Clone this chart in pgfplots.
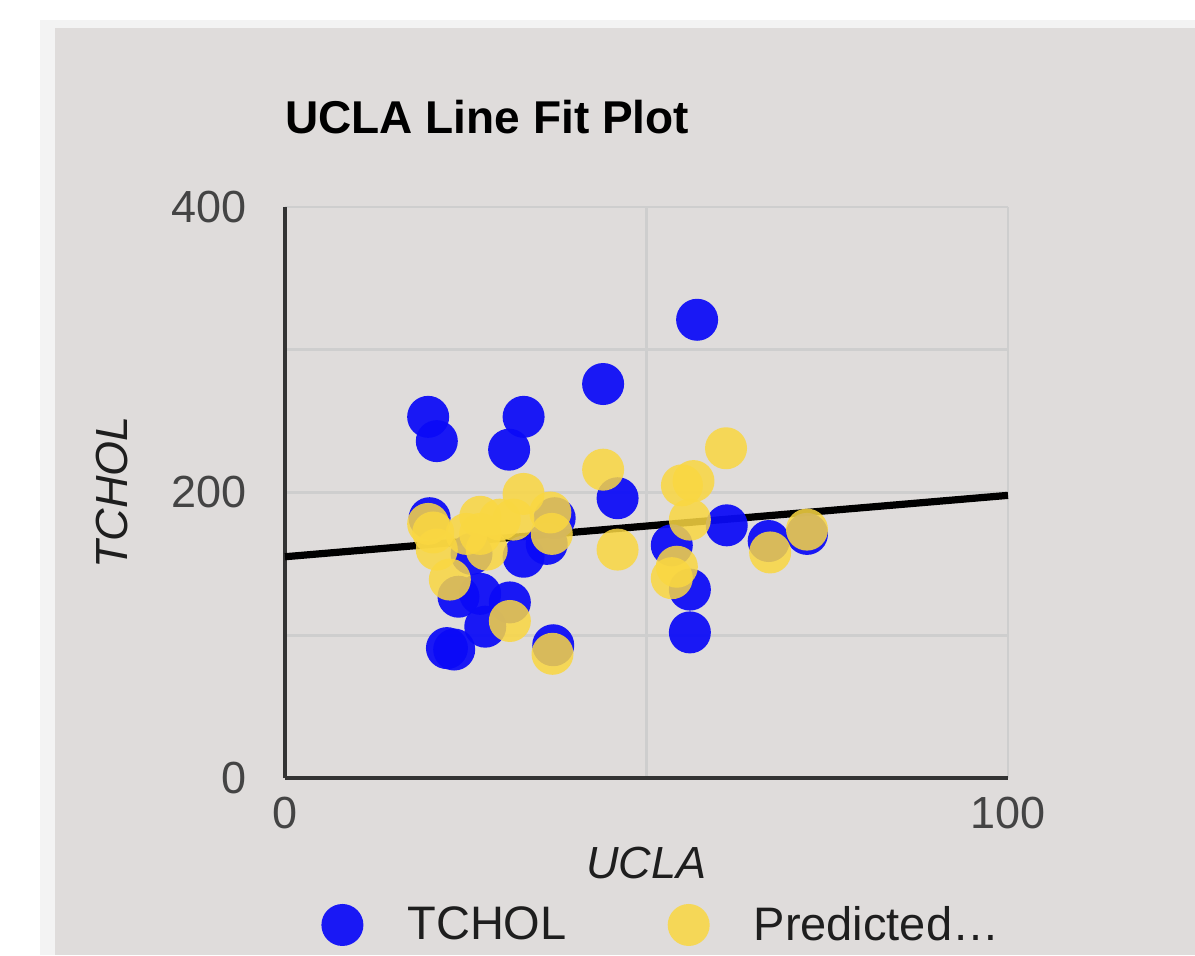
\documentclass[border=0pt]{standalone}
\usepackage{fontspec}
\setmainfont{Liberation Sans}
\setsansfont{Liberation Sans}
\usepackage{pgfplots}
\pgfplotsset{compat=1.18}
\usepackage{pgfplotstable}
\definecolor{bgc}{RGB}{223,220,219}
\definecolor{edgec}{RGB}{243,243,243}
\definecolor{gridc}{RGB}{206,206,206}
\definecolor{axc}{RGB}{51,51,51}
\definecolor{tickc}{RGB}{68,68,68}
\definecolor{txtc}{RGB}{30,30,30}
\definecolor{ptblue}{RGB}{10,10,248}
\definecolor{ptyellow}{RGB}{250,215,65}
\pgfplotstableread{
x y
19.8 253
21 236
33 253
31 230
44 276
57 321
46 196
20 182
37.3 182
33 155
36.2 164
25.8 157
53.5 163
56 132
56 102
61.1 177
24 127
27 129
31.1 123
27.7 106
22.4 91
23.4 90
37.1 93
66.9 166
72.2 171
}\tchol
\pgfplotstableread{
x y
44 216
61 231
56.5 208
54.9 205
56 181
46 160
53.5 140
54.2 148
33 199
36.7 186
36.9 171
19.8 178
27 183
31.6 181
29.7 181
21 160
27.9 160
22.8 139
25.1 171
27 171
31.1 110
37 87
67.1 158
72.2 174
20.5 172
}\pred
\pgfplotsset{
  myleg/.style={legend image code/.code={\draw[mark repeat=2,mark phase=2,##1] plot coordinates {(0pt,0pt)(10.5pt,0pt)(21pt,0pt)};}}
}
\begin{document}
\begin{tikzpicture}
\useasboundingbox (0,0) rectangle (597.5pt,477.5pt);
\fill[white] (0,0) rectangle (597.5pt,477.5pt);
\fill[edgec] (20pt,0) rectangle (597.5pt,467.5pt);
\fill[bgc] (27.5pt,0) rectangle (597.5pt,463.5pt);
\begin{axis}[
  at={(142.5pt,88.5pt)}, anchor=south west,
  scale only axis, width=361.5pt, height=285.5pt,
  xmin=0, xmax=100, ymin=0, ymax=400,
  xtick={0,100}, minor xtick={50},
  ytick={0,200,400}, minor ytick={100,300},
  grid=both,
  major grid style={draw=gridc, line width=1.3pt},
  minor grid style={draw=gridc, line width=1.3pt},
  major tick length=0pt, minor tick length=0pt,
  axis x line=bottom, axis y line=left,
  axis line style={-, draw=axc, line width=1.8pt},
  /pgf/number format/assume math mode=true,
  tick label style={font=\fontsize{22.5}{27}\selectfont, text=tickc},
  yticklabel style={inner sep=0pt, xshift=-19pt},
  xticklabel style={inner sep=0pt, yshift=-9.5pt},
  title={UCLA Line Fit Plot},
  title style={at={(axis description cs:0,1)}, anchor=base west, yshift=31pt, inner sep=0pt, font=\fontsize{23}{27}\selectfont\bfseries, text=black},
  xlabel={UCLA},
  xlabel style={at={(axis description cs:0.5,-0.149)}, anchor=center, inner sep=0pt, font=\fontsize{22.5}{27}\selectfont\itshape, text=txtc},
  ylabel={TCHOL},
  ylabel style={at={(axis description cs:-0.2397,0.5)}, anchor=center, inner sep=0pt, font=\fontsize{22.5}{27}\selectfont\itshape, text=txtc},
  legend columns=-1,
  legend style={at={(axis description cs:0.0498,-0.2574)}, anchor=west, draw=none, fill=none,
    inner xsep=0pt, inner ysep=0pt, nodes={inner sep=0pt},
    font=\fontsize{23.5}{27}\selectfont, text=txtc,
    /tikz/every odd column/.append style={column sep=22pt},
    /tikz/every even column/.append style={column sep=50.5pt}},
  clip=false,
]
\addplot[black, line width=3.6pt, forget plot] coordinates {(0,155) (100,198)};
\addplot[only marks, mark=*, mark size=10.5pt, color=ptblue, mark options={draw=ptblue, draw opacity=0, line width=0pt, fill=ptblue, fill opacity=0.93}, myleg] table[x=x,y=y] {\tchol};
\addlegendentry{TCHOL}
\addplot[only marks, mark=*, mark size=10.5pt, color=ptyellow, mark options={draw=ptyellow, draw opacity=0, line width=0pt, fill=ptyellow, fill opacity=0.85}, myleg] table[x=x,y=y] {\pred};
\addlegendentry{Predicted…}
\end{axis}
\end{tikzpicture}
\end{document}
